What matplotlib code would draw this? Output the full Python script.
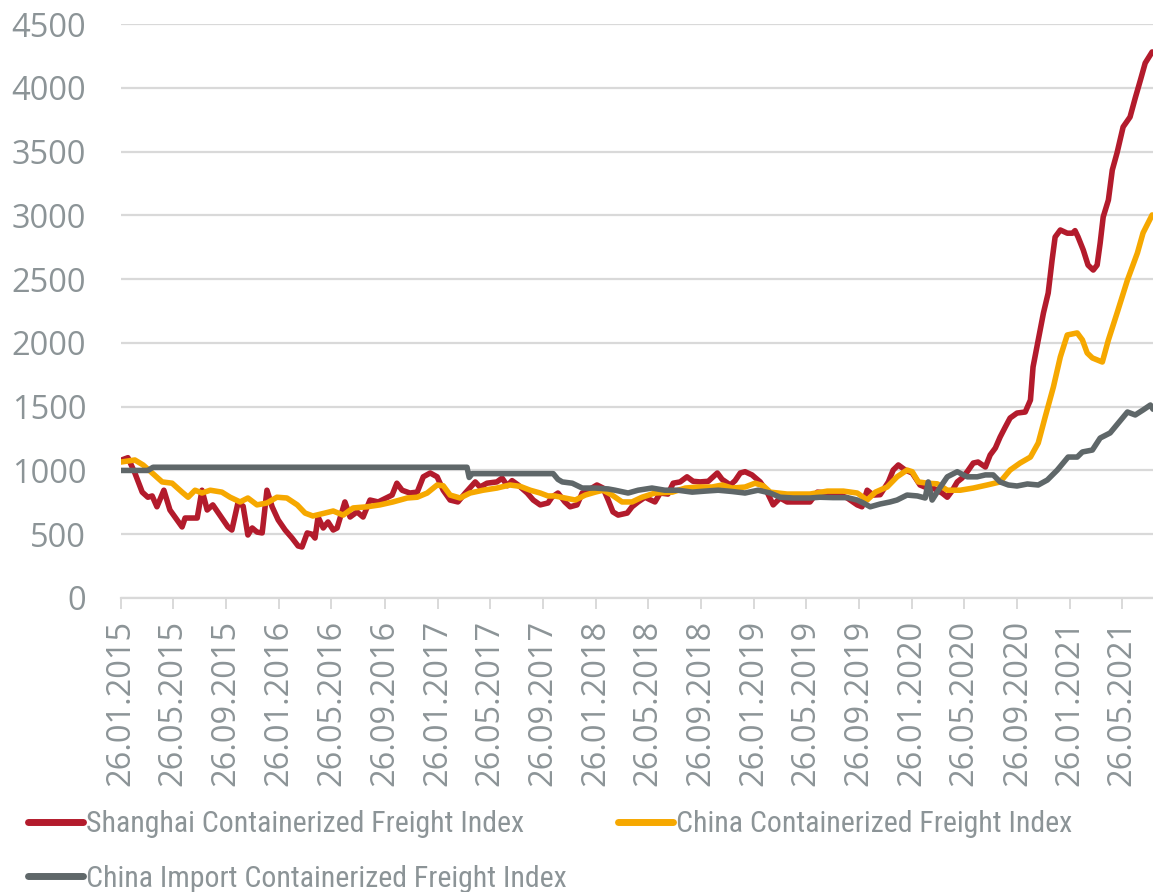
import pandas as pd
import matplotlib
matplotlib.use("Agg")
import matplotlib.pyplot as plt
import matplotlib.dates as mdates
from matplotlib import font_manager

# Shanghai Containerized Freight Index
scfi_dates = [
    "2015-01-26", "2015-02-11", "2015-02-27", "2015-03-16", "2015-03-29", "2015-04-08",
    "2015-04-19", "2015-05-05", "2015-05-19", "2015-06-16", "2015-06-23", "2015-07-21",
    "2015-08-01", "2015-08-13", "2015-08-26", "2015-09-30", "2015-10-09", "2015-10-23",
    "2015-11-04", "2015-11-15", "2015-11-25", "2015-12-06", "2015-12-18", "2015-12-29",
    "2016-01-10", "2016-01-24", "2016-02-09", "2016-02-25", "2016-03-10", "2016-03-19",
    "2016-03-31", "2016-04-11", "2016-04-18", "2016-04-25", "2016-05-07", "2016-05-18",
    "2016-05-30", "2016-06-08", "2016-06-26", "2016-07-08", "2016-07-24", "2016-08-07",
    "2016-08-23", "2016-09-11", "2016-10-13", "2016-10-24", "2016-11-05", "2016-11-23",
    "2016-12-10", "2016-12-24", "2017-01-09", "2017-01-25", "2017-02-08", "2017-02-24",
    "2017-03-14", "2017-03-31", "2017-04-23", "2017-05-04", "2017-05-20", "2017-06-12",
    "2017-06-24", "2017-07-06", "2017-07-17", "2017-07-31", "2017-08-21", "2017-09-04",
    "2017-09-20", "2017-10-08", "2017-10-17", "2017-10-31", "2017-11-16", "2017-11-28",
    "2017-12-14", "2017-12-26", "2018-01-09", "2018-01-29", "2018-02-12", "2018-02-24",
    "2018-03-07", "2018-03-19", "2018-04-09", "2018-04-20", "2018-05-04", "2018-05-20",
    "2018-06-01", "2018-06-12", "2018-06-24", "2018-07-12", "2018-07-24", "2018-08-09",
    "2018-08-25", "2018-09-08", "2018-09-24", "2018-10-13", "2018-11-03", "2018-11-14",
    "2018-12-03", "2018-12-14", "2018-12-26", "2019-01-06", "2019-01-22", "2019-02-10",
    "2019-02-26", "2019-03-12", "2019-03-28", "2019-04-13", "2019-06-05", "2019-06-22",
    "2019-07-15", "2019-08-09", "2019-08-30", "2019-09-22", "2019-10-03", "2019-10-15",
    "2019-10-29", "2019-11-14", "2019-12-03", "2019-12-14", "2019-12-26", "2020-01-11",
    "2020-01-27", "2020-02-14", "2020-03-02", "2020-03-16", "2020-04-05", "2020-04-17",
    "2020-04-28", "2020-05-10", "2020-05-21", "2020-06-02", "2020-06-16", "2020-06-27",
    "2020-07-14", "2020-07-25", "2020-08-06", "2020-08-17", "2020-08-29", "2020-09-09",
    "2020-09-25", "2020-10-14", "2020-10-26", "2020-11-01", "2020-11-13", "2020-11-25",
    "2020-12-06", "2020-12-15", "2020-12-22", "2021-01-03", "2021-01-19", "2021-01-31",
    "2021-02-06", "2021-02-13", "2021-02-25", "2021-03-08", "2021-03-20", "2021-03-29",
    "2021-04-05", "2021-04-12", "2021-04-24", "2021-05-03", "2021-05-14", "2021-05-28",
    "2021-06-13", "2021-06-25", "2021-07-07", "2021-07-18", "2021-08-03",
]
scfi_values = [
    1080, 1100, 980, 830, 790, 800,
    715, 845, 690, 557, 627, 627,
    845, 690, 730, 557, 533, 745,
    720, 494, 549, 517, 510, 845,
    715, 612, 533, 470, 408, 400,
    510, 500, 470, 635, 549, 596,
    533, 549, 753, 635, 675, 635,
    768, 753, 807, 900, 845, 823,
    830, 950, 980, 950, 845, 768,
    753, 823, 910, 870, 900, 910,
    940, 880, 920, 886, 823, 768,
    730, 745, 790, 823, 753, 715,
    730, 823, 845, 886, 862, 768,
    675, 650, 666, 715, 753, 790,
    770, 753, 823, 815, 900, 910,
    950, 915, 910, 915, 980, 930,
    886, 920, 980, 990, 965, 910,
    830, 730, 784, 753, 753, 830,
    823, 815, 784, 730, 715, 845,
    807, 810, 910, 1003, 1043, 1003,
    980, 886, 862, 860, 823, 790,
    840, 910, 940, 990, 1058, 1066,
    1027, 1121, 1176, 1262, 1341, 1411,
    1450, 1458, 1552, 1811, 2023, 2234,
    2391, 2650, 2830, 2885, 2860, 2860,
    2880, 2830, 2728, 2610, 2571, 2610,
    2783, 2987, 3120, 3355, 3490, 3693,
    3771, 3920, 4061, 4194, 4281,
]

# China Containerized Freight Index
ccfi_dates = [
    "2015-01-26", "2015-02-27", "2015-03-18", "2015-04-08", "2015-05-01", "2015-05-24",
    "2015-06-16", "2015-06-30", "2015-07-16", "2015-08-01", "2015-08-20", "2015-09-16",
    "2015-10-05", "2015-10-28", "2015-11-15", "2015-12-06", "2015-12-29", "2016-01-21",
    "2016-02-13", "2016-03-08", "2016-03-26", "2016-04-13", "2016-05-11", "2016-05-30",
    "2016-06-22", "2016-07-15", "2016-08-16", "2016-09-15", "2016-10-15", "2016-11-17",
    "2016-12-10", "2017-01-02", "2017-01-25", "2017-02-08", "2017-02-24", "2017-03-19",
    "2017-04-11", "2017-05-11", "2017-06-12", "2017-07-12", "2017-08-05", "2017-08-28",
    "2017-09-20", "2017-10-08", "2017-10-24", "2017-11-16", "2017-12-10", "2018-01-02",
    "2018-01-25", "2018-02-12", "2018-03-05", "2018-03-28", "2018-04-20", "2018-05-13",
    "2018-06-12", "2018-07-22", "2018-08-21", "2018-09-20", "2018-10-22", "2018-11-14",
    "2018-12-07", "2019-01-06", "2019-01-29", "2019-02-17", "2019-03-05", "2019-04-13",
    "2019-06-05", "2019-07-15", "2019-08-21", "2019-09-22", "2019-10-15", "2019-11-03",
    "2019-11-30", "2019-12-23", "2020-01-15", "2020-01-27", "2020-02-10", "2020-03-02",
    "2020-03-25", "2020-04-17", "2020-05-17", "2020-06-16", "2020-07-18", "2020-08-17",
    "2020-09-09", "2020-10-02", "2020-10-26", "2020-11-13", "2020-11-29", "2020-12-18",
    "2021-01-03", "2021-01-19", "2021-02-11", "2021-02-23", "2021-03-06", "2021-03-18",
    "2021-04-10", "2021-04-24", "2021-05-14", "2021-06-07", "2021-06-30", "2021-07-13",
    "2021-08-03",
]
ccfi_values = [
    1066, 1082, 1043, 980, 910, 900,
    830, 790, 845, 823, 845, 830,
    790, 753, 784, 730, 745, 790,
    784, 730, 666, 643, 666, 682,
    650, 706, 715, 730, 753, 784,
    790, 823, 886, 880, 807, 784,
    823, 845, 862, 886, 875, 845,
    823, 800, 800, 784, 768, 807,
    830, 845, 807, 753, 753, 790,
    823, 830, 862, 870, 870, 886,
    862, 870, 900, 880, 830, 815,
    815, 838, 838, 823, 768, 830,
    870, 950, 1003, 990, 910, 900,
    895, 845, 845, 862, 886, 910,
    1003, 1058, 1105, 1215, 1419, 1654,
    1890, 2062, 2078, 2023, 1921, 1882,
    1850, 2023, 2234, 2493, 2705, 2862,
    3003,
]

# China Import Containerized Freight Index
cicfi_dates = [
    "2015-01-26", "2015-03-29", "2015-04-10", "2017-04-04", "2017-04-09", "2017-04-16",
    "2017-10-20", "2017-10-31", "2017-11-10", "2017-12-03", "2017-12-26", "2018-01-25",
    "2018-02-24", "2018-03-12", "2018-04-11", "2018-05-04", "2018-06-05", "2018-07-05",
    "2018-08-04", "2018-09-06", "2018-10-06", "2018-11-05", "2018-12-07", "2019-01-06",
    "2019-02-05", "2019-03-05", "2019-03-28", "2019-04-27", "2019-06-05", "2019-06-28",
    "2019-07-28", "2019-08-30", "2019-09-22", "2019-10-06", "2019-10-22", "2019-11-14",
    "2019-12-07", "2019-12-23", "2020-01-15", "2020-02-08", "2020-02-26", "2020-03-04",
    "2020-03-13", "2020-04-01", "2020-04-17", "2020-05-10", "2020-06-02", "2020-06-25",
    "2020-07-14", "2020-08-01", "2020-08-17", "2020-09-05", "2020-09-25", "2020-10-19",
    "2020-11-13", "2020-12-04", "2020-12-27", "2021-01-21", "2021-02-11", "2021-02-23",
    "2021-03-18", "2021-04-05", "2021-04-28", "2021-05-17", "2021-06-07", "2021-06-25",
    "2021-07-13", "2021-07-30", "2021-08-05",
]
cicfi_values = [
    1000, 1000, 1025, 1025, 945, 975,
    975, 930, 910, 900, 862, 862,
    855, 845, 823, 845, 862, 845,
    845, 830, 838, 845, 835, 823,
    845, 823, 790, 784, 784, 790,
    787, 787, 768, 745, 715, 737,
    753, 768, 807, 800, 784, 910,
    768, 870, 950, 990, 950, 950,
    965, 965, 910, 886, 878, 894,
    886, 925, 1003, 1105, 1105, 1145,
    1160, 1254, 1294, 1372, 1458, 1435,
    1474, 1513, 1480,
]

labels = [
    "Shanghai Containerized Freight Index",
    "China Containerized Freight Index",
    "China Import Containerized Freight Index",
]
colors = ["#B31B2C", "#F6A800", "#5F6769"]

tick_start, tick_end = "2015-01-26", "2021-05-26"
x_end = "2021-08-05"
grid_col = "#D9D9D9"
text_col = "#8C9497"

names = {f.name for f in font_manager.fontManager.ttflist}
tick_font = "Open Sans" if "Open Sans" in names else "DejaVu Sans"
legend_font = next((n for n in ["Liberation Sans Narrow", "Roboto Condensed",
                                "DejaVu Sans Condensed"] if n in names), "Liberation Sans")

fig = plt.figure(figsize=(11.53, 8.92), dpi=100)
ax = fig.add_axes([121 / 1153, 294 / 892, 1032 / 1153, 574 / 892])

series = [(scfi_dates, scfi_values), (ccfi_dates, ccfi_values), (cicfi_dates, cicfi_values)]
handles = []
for i, (d, v) in enumerate(series):
    h, = ax.plot(pd.to_datetime(d), v, color=colors[i], lw=4, label=labels[i],
                 solid_joinstyle="round", solid_capstyle="round", zorder=3 + i)
    handles.append(h)

ax.set_ylim(0, 4500)
ax.set_yticks(range(0, 4501, 500))
ax.set_xlim(pd.Timestamp(tick_start), pd.Timestamp(x_end))
ticks = pd.date_range(tick_start, tick_end, freq=pd.DateOffset(months=4))
ax.set_xticks(ticks)
ax.xaxis.set_major_formatter(mdates.DateFormatter("%d.%m.%Y"))

ax.grid(axis="y", color=grid_col, lw=1.6, zorder=0)
for s in ["top", "right", "left"]:
    ax.spines[s].set_visible(False)
ax.spines["bottom"].set_color(grid_col)
ax.spines["bottom"].set_linewidth(1.6)
ax.tick_params(axis="y", length=0, pad=25, labelsize=23.5, labelcolor=text_col)
ax.tick_params(axis="x", length=8, width=1.4, color=grid_col, pad=8,
               labelsize=23.5, labelcolor=text_col, labelrotation=90)
for t in ax.get_xticklabels() + ax.get_yticklabels():
    t.set_fontfamily(tick_font)

# column-major fill: SCFI + import index in first column
leg = fig.legend([handles[0], handles[2], handles[1]],
                 [labels[0], labels[2], labels[1]],
                 ncol=2, loc="upper left", bbox_to_anchor=(28 / 1153, 1 - 810 / 892),
                 frameon=False, borderpad=0, borderaxespad=0,
                 handlelength=1.85, handletextpad=0.1, columnspacing=1.7,
                 labelspacing=0.9, prop={"family": legend_font, "size": 21.5})
for t in leg.get_texts():
    t.set_color(text_col)
for l in leg.get_lines():
    l.set_linewidth(5)

fig.savefig("out.png", dpi=100)
